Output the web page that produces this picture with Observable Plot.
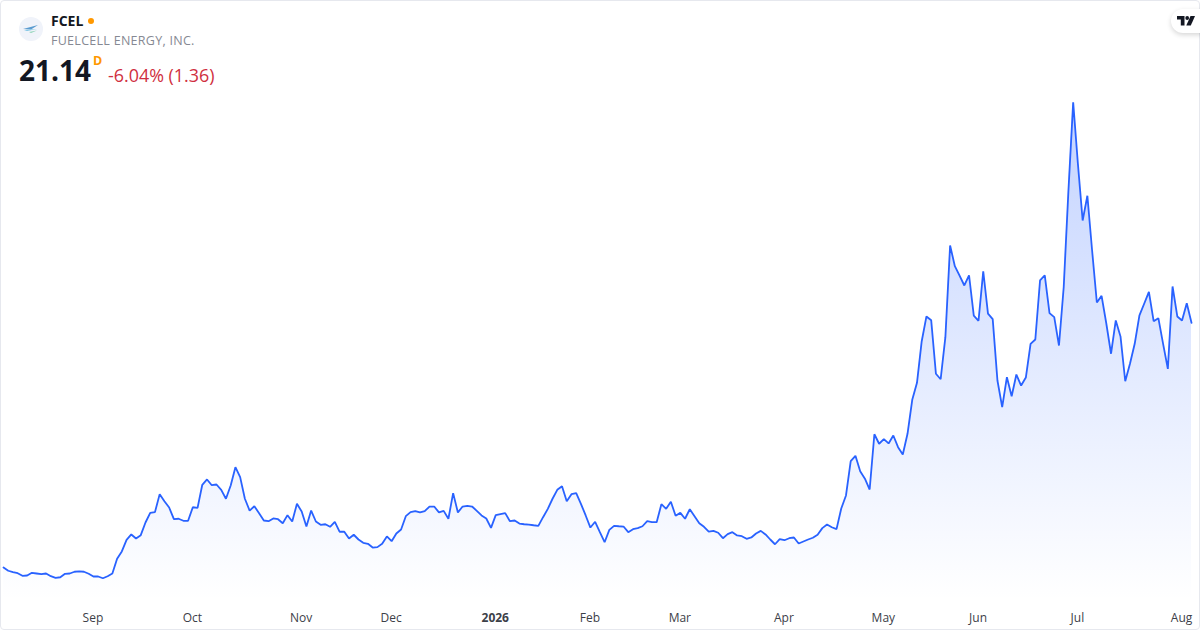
<!DOCTYPE html>
<html>
<head>
<meta charset="utf-8">
<script src="https://cdn.jsdelivr.net/npm/d3@7"></script>
<script src="https://cdn.jsdelivr.net/npm/@observablehq/plot@0.6"></script>
<style>
html,body{margin:0;padding:0;background:#fff;}
#wrap{position:relative;width:1200px;height:630px;overflow:hidden;font-family:"Open Sans",sans-serif;}
#frame{position:absolute;left:0;top:0;width:1198px;height:628px;border:1px solid #e6e8ee;border-radius:4px;pointer-events:none;}
#chart{position:absolute;left:0;top:0;}
#chart svg{display:block;}
.h{position:absolute;white-space:nowrap;}
#logo{position:absolute;left:19px;top:17px;}
#tv{position:absolute;left:1171px;top:9px;width:40px;height:24px;background:#fff;border-radius:12px;box-shadow:0 2px 5px rgba(0,0,0,.16);}
</style>
</head>
<body>
<div id="wrap">
  <div id="chart"></div>
  <div id="frame"></div>
  <svg id="logo" width="24" height="24" viewBox="0 0 24 24">
    <circle cx="12" cy="12" r="12" fill="#f0f3fa"/>
    <path d="M4 12 L19 8 L12 12.5 Z" fill="#5b9bd0"/>
    <path d="M5 13 L18 12 L8 14 Z" fill="#7cc4e4"/>
    <path d="M10 15 L18 13.5 L12 16 Z" fill="#8fd4b8"/>
  </svg>
  <div class="h" id="sym" style="left:51px;top:12px;font-size:14px;font-weight:700;color:#131722;line-height:18px;"></div>
  <div class="h" style="left:87.5px;top:18px;width:6px;height:6px;border-radius:50%;background:#ff9800;"></div>
  <div class="h" id="name" style="left:51px;top:32px;font-size:12.5px;color:#868993;line-height:18px;letter-spacing:.28px;"></div>
  <div class="h" id="last" style="left:19px;top:51px;font-size:28px;font-weight:700;color:#131722;line-height:38px;"></div>
  <div class="h" style="left:93px;top:54px;font-size:12.5px;font-weight:700;color:#ff9800;line-height:14px;">D</div>
  <div class="h" id="chg" style="left:108px;top:62.5px;font-size:17.9px;color:#d02f40;line-height:24px;"></div>
  <div id="tv">
    <svg width="20" height="11" viewBox="0 0 20 11" style="position:absolute;left:6px;top:6.5px;">
      <path d="M0 0 H7.5 V9.5 H3.8 V3.6 H0 Z" fill="#131722"/>
      <circle cx="10.2" cy="2" r="1.9" fill="#131722"/>
      <path d="M13.5 0 H18 L13.8 9.5 H9.3 Z" fill="#131722"/>
    </svg>
  </div>
</div>
<script>
const symbol = "FCEL";
const companyName = "FUELCELL ENERGY, INC.";
const lastPrice = "21.14";
const changeText = "-6.04% (1.36)";

const tickIndex = [19, 40, 63, 82, 124, 143, 165, 186, 206, 227, 249];
const tickLabels = ["Sep", "Oct", "Nov", "Dec", "Feb", "Mar", "Apr", "May", "Jun", "Jul", "Aug"];
const yearIndex = [104];
const yearLabels = ["2026"];

const prices = [
4.15,3.92,3.82,3.75,3.57,3.59,3.78,3.73,3.68,3.73,
3.54,3.43,3.47,3.71,3.73,3.85,3.87,3.85,3.71,3.52,
3.52,3.40,3.54,3.73,4.75,5.26,6.07,6.44,6.16,6.39,
7.27,7.94,7.99,9.24,8.75,8.31,7.50,7.53,7.39,7.39,
8.33,8.29,9.89,10.26,9.86,9.91,9.54,8.92,9.84,11.11,
10.42,8.92,8.10,8.40,7.92,7.41,7.36,7.55,7.50,7.22,
7.78,7.34,8.57,8.03,6.99,8.10,7.34,7.11,7.15,6.97,
7.32,6.63,6.63,6.16,6.42,6.09,5.86,5.79,5.53,5.56,
5.79,6.30,5.97,6.51,6.78,7.71,7.99,8.06,7.97,8.06,
8.38,8.38,7.97,8.08,7.53,9.31,7.97,8.38,8.43,8.38,
8.08,7.76,7.55,6.90,7.78,7.85,7.92,7.36,7.41,7.20,
7.15,7.13,7.08,7.04,7.64,8.22,8.92,9.54,9.79,8.75,
9.24,9.31,8.57,7.76,6.92,7.32,6.60,5.90,6.76,7.04,
7.01,6.99,6.60,6.81,6.88,7.01,7.36,7.29,7.29,8.54,
8.22,8.71,7.74,7.94,7.53,8.19,7.71,7.22,6.97,6.63,
6.69,6.56,6.18,6.46,6.60,6.37,6.32,6.14,6.23,6.51,
6.69,6.44,6.09,5.76,6.11,6.04,6.18,6.23,5.81,5.95,
6.09,6.21,6.42,6.88,7.13,6.94,6.81,8.24,9.15,11.53,
11.90,10.83,10.31,9.56,13.40,12.74,13.06,12.76,13.31,12.50,
11.99,13.43,15.79,16.97,19.86,21.58,21.32,17.60,17.22,20.14,
26.51,25.07,24.42,23.73,24.44,21.63,21.28,24.72,21.78,21.39,
17.13,15.28,17.36,16.04,17.55,16.78,17.34,19.68,19.98,24.08,
24.44,21.81,21.53,19.56,23.61,30.33,36.45,32.18,28.24,29.96,
26.16,22.55,23.01,21.09,18.99,21.30,20.19,17.08,18.29,19.68,
21.65,22.46,23.29,21.25,21.46,19.68,17.94,23.66,21.58,21.30,
22.50,21.14
];
const sessions = prices.map((_, i) => i);

document.getElementById("sym").textContent = symbol;
document.getElementById("name").textContent = companyName;
document.getElementById("last").textContent = lastPrice;
document.getElementById("chg").textContent = changeText;

function gradientDefs() {
  const defs = d3.create("svg:defs");
  const g = defs.append("linearGradient").attr("id", "fillGrad")
    .attr("x1", 0).attr("x2", 0).attr("y1", 0).attr("y2", 1);
  g.append("stop").attr("offset", "0").attr("stop-color", "#2962ff").attr("stop-opacity", 0.28);
  g.append("stop").attr("offset", "0.95").attr("stop-color", "#2962ff").attr("stop-opacity", 0);
  return defs.node();
}

const chart = Plot.plot({
  width: 1200,
  height: 630,
  marginTop: 0, marginBottom: 18, marginLeft: 0, marginRight: 0,
  style: {background: "transparent", fontFamily: '"Open Sans",sans-serif', fontSize: "12px", color: "#3c4048"},
  x: {type: "linear", domain: [0, 251], range: [3, 1191], label: null},
  y: {domain: [0, 43.5], range: [626.7, 0.3], label: null, axis: null},
  marks: [
    gradientDefs,
    Plot.areaY(prices, {x: sessions, y: prices, fill: "url(#fillGrad)", curve: "linear"}),
    Plot.lineY(prices, {x: sessions, y: prices, stroke: "#2962ff", strokeWidth: 1.8, curve: "linear", strokeLinejoin: "miter"}),
    Plot.axisX({ticks: tickIndex, tickFormat: d => tickLabels[tickIndex.indexOf(d)], tickSize: 0, tickPadding: 1, dx: -0.5, label: null, fill: "#3c4048"}),
    Plot.axisX({ticks: yearIndex, tickFormat: d => yearLabels[yearIndex.indexOf(d)], tickSize: 0, tickPadding: 1, dx: -0.5, label: null, fill: "#3c4048", fontWeight: 700})
  ]
});
document.getElementById("chart").appendChild(chart);
</script>
</body>
</html>
